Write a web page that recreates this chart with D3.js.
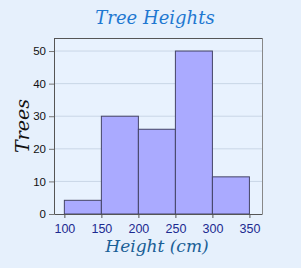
<!DOCTYPE html>
<html>
<head>
<meta charset="utf-8">
<script src="https://cdn.jsdelivr.net/npm/d3@7"></script>
<style>
  body { margin: 0; background: #e6f0fc; }
  svg { display: block; }
</style>
</head>
<body>
<div id="chart-container"></div>
<script>
// histogram bins and counts
const binStarts = [100, 150, 200, 250, 300];
const binWidth = 50;
const counts = [4.2, 30, 26, 50, 11.4];
const xTicks = [100, 150, 200, 250, 300, 350];
const yTicks = [0, 10, 20, 30, 40, 50];

const W = 301, H = 268;
const margin = {top: 38, right: 39, bottom: 54, left: 54},
    width = W - margin.left - margin.right,
    height = H - margin.top - margin.bottom;

const svg = d3.select("#chart-container")
    .append("svg")
    .attr("width", W)
    .attr("height", H);

svg.append("rect")
    .attr("width", W).attr("height", H)
    .attr("fill", "#e6f0fc");

const g = svg.append("g")
    .attr("transform", `translate(${margin.left},${margin.top})`);

const x = d3.scaleLinear().domain([86, 367]).range([0, width]);
const y = d3.scaleLinear().domain([0, 54]).range([height, 0]);

// plot background
g.append("rect")
    .attr("width", width).attr("height", height)
    .attr("fill", "#e8f2fe");

// grid lines
g.selectAll(".grid")
    .data(yTicks.slice(1))
    .join("line")
    .attr("x1", 0).attr("x2", width)
    .attr("y1", d => y(d)).attr("y2", d => y(d))
    .attr("stroke", "#c9d6e6")
    .attr("stroke-width", 1);

// bars
g.selectAll(".bar")
    .data(binStarts.map((s, i) => ({start: s, count: counts[i]})))
    .join("rect")
    .attr("x", d => x(d.start))
    .attr("y", d => y(d.count))
    .attr("width", d => x(d.start + binWidth) - x(d.start))
    .attr("height", d => height - y(d.count))
    .attr("fill", "#aaaaff")
    .attr("stroke", "#444466")
    .attr("stroke-width", 1);

// frame top and right
g.append("line")
    .attr("x1", 0).attr("x2", width).attr("y1", 0.5).attr("y2", 0.5)
    .attr("stroke", "#555");
g.append("line")
    .attr("x1", width + 0.5).attr("x2", width + 0.5).attr("y1", 0).attr("y2", height)
    .attr("stroke", "#888");

// axes
const xAxis = g.append("g")
    .attr("transform", `translate(0,${height})`)
    .call(d3.axisBottom(x).tickValues(xTicks).tickSize(4).tickSizeOuter(0));
xAxis.select(".domain").attr("stroke", "#555");
xAxis.selectAll(".tick line").attr("stroke", "#555");
xAxis.selectAll("text")
    .attr("fill", "#1c2a90")
    .style("font-family", "Liberation Sans, Arial, sans-serif")
    .style("font-size", "12.5px")
    .attr("dy", "0.95em");

const yAxis = g.append("g")
    .call(d3.axisLeft(y).tickValues(yTicks).tickSize(5).tickSizeOuter(0));
yAxis.select(".domain").attr("stroke", "#555");
yAxis.selectAll(".tick line").attr("stroke", "#777");
yAxis.selectAll("text")
    .attr("fill", "#111")
    .style("font-family", "Liberation Sans, Arial, sans-serif")
    .style("font-size", "11.5px");

// title
svg.append("text")
    .attr("x", 155).attr("y", 24)
    .attr("text-anchor", "middle")
    .attr("fill", "#1f78d1")
    .style("font-family", "DejaVu Serif, serif")
    .style("font-style", "italic")
    .style("font-size", "18px")
    .text("Tree Heights");

// axis titles
svg.append("text")
    .attr("x", 157).attr("y", 252)
    .attr("text-anchor", "middle")
    .attr("fill", "#1a5f96")
    .style("font-family", "DejaVu Serif, serif")
    .style("font-style", "italic")
    .style("font-size", "17px")
    .text("Height (cm)");

svg.append("text")
    .attr("transform", "translate(29,126) rotate(-90)")
    .attr("text-anchor", "middle")
    .attr("fill", "#111")
    .style("font-family", "DejaVu Serif, serif")
    .style("font-style", "italic")
    .style("font-size", "19px")
    .text("Trees");
</script>
</body>
</html>
